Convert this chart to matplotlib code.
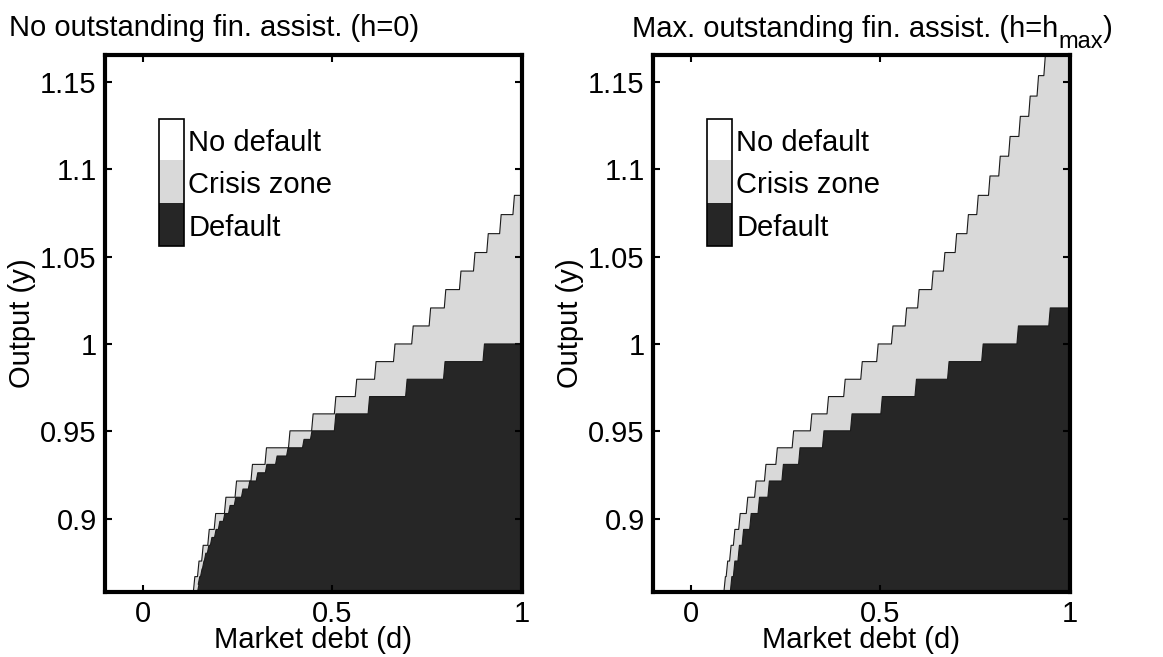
import numpy as np
import matplotlib
matplotlib.use('Agg')
import matplotlib.pyplot as plt
from matplotlib.patches import Rectangle

plt.rcParams['font.family'] = ['Liberation Sans', 'DejaVu Sans']

# output grid levels (y) where the regions step
y_grid = [0.8581, 0.8669, 0.8758, 0.8848, 0.8939, 0.9030, 0.9123, 0.9216,
          0.9311, 0.9406, 0.9503, 0.9600, 0.9699, 0.9798, 0.9899, 1.0000,
          1.0103, 1.0206, 1.0311, 1.0417, 1.0523, 1.0631, 1.0740, 1.0850,
          1.0961, 1.1074, 1.1187, 1.1302, 1.1418, 1.1535, 1.1653]

# h=0 : debt level where crisis zone starts (no default -> crisis), per output band
left_crisis_y = y_grid[:24]
left_crisis_d = [0.137, 0.148, 0.159, 0.175, 0.192, 0.219, 0.247, 0.289,
                 0.326, 0.388, 0.449, 0.509, 0.564, 0.615, 0.665, 0.713,
                 0.759, 0.799, 0.839, 0.876, 0.911, 0.945, 0.980]
# h=0 : debt level where default starts
left_default_y = [0.8581, 0.8625, 0.8669, 0.8713, 0.8758, 0.8803, 0.8848,
                  0.8893, 0.8939, 0.8985, 0.9030, 0.9076, 0.9123, 0.9170,
                  0.9216, 0.9263, 0.9311, 0.9359, 0.9406, 0.9454, 0.9503,
                  0.9600, 0.9699, 0.9798, 0.9899, 1.0000]
left_default_d = [0.148, 0.150, 0.156, 0.161, 0.166, 0.174, 0.182, 0.193,
                  0.203, 0.216, 0.230, 0.245, 0.264, 0.282, 0.303, 0.327,
                  0.354, 0.383, 0.425, 0.446, 0.509, 0.598, 0.697, 0.797,
                  0.901]

# h=hmax
right_crisis_y = y_grid
right_crisis_d = [0.091, 0.097, 0.106, 0.116, 0.130, 0.150, 0.172, 0.198,
                  0.228, 0.271, 0.319, 0.363, 0.407, 0.452, 0.494, 0.533,
                  0.569, 0.602, 0.639, 0.670, 0.701, 0.732, 0.758, 0.789,
                  0.816, 0.842, 0.869, 0.895, 0.917, 0.935]
right_default_y = y_grid[:18]
right_default_d = [0.108, 0.116, 0.128, 0.139, 0.159, 0.181, 0.207, 0.244,
                   0.288, 0.351, 0.425, 0.505, 0.595, 0.681, 0.771, 0.864,
                   0.948]

left_title = 'No outstanding fin. assist. (h=0)'
right_title = ['Max. outstanding fin. assist. (h=h', 'max', ')']
legend_labels = ['No default', 'Crisis zone', 'Default']
c_none, c_crisis, c_default = 'white', '#d9d9d9', '#262626'
FS = 21
W, H = 1163, 657


def region(ax, y_edges, d_vals, color, lean=0.004):
    # stepped region from the boundary to d=1; risers lean slightly like matlab contours
    y = np.asarray(y_edges)
    d = np.asarray(d_vals)
    xs = np.column_stack([d - lean, d]).ravel()
    ys = np.column_stack([y[:-1], y[1:]]).ravel()
    xs = np.concatenate([xs, [1.0, 1.0]])
    ys = np.concatenate([ys, [y[-1], y[0]]])
    ax.fill(xs, ys, color=color, lw=0)
    ax.plot(xs[:-1], ys[:-1], color='#1a1a1a', lw=0.8)


fig = plt.figure(figsize=(W / 100, H / 100), dpi=100)
ax1 = fig.add_axes([105 / W, 65 / H, 417 / W, 537 / H])
ax2 = fig.add_axes([653 / W, 65 / H, 417 / W, 537 / H])

panels = [(ax1, left_crisis_y, left_crisis_d, left_default_y, left_default_d),
          (ax2, right_crisis_y, right_crisis_d, right_default_y, right_default_d)]

for ax, cy, cd, dy, dd in panels:
    region(ax, cy, cd, c_crisis)
    region(ax, dy, dd, c_default)
    ax.set_xlim(-0.1, 1)
    ax.set_ylim(y_grid[0], y_grid[-1])
    ax.set_xticks([0, 0.5, 1])
    ax.set_xticklabels(['0', '0.5', '1'])
    ax.set_yticks([0.9, 0.95, 1.0, 1.05, 1.1, 1.15])
    ax.set_yticklabels(['0.9', '0.95', '1', '1.05', '1.1', '1.15'])
    ax.tick_params(direction='in', length=5, width=1.5, top=True, right=True,
                   labelsize=FS, pad=6)
    for s in ax.spines.values():
        s.set_linewidth(3)
    # colorbar-like legend
    x0, w = 0.130, 0.060
    edges = [0.881, 0.804, 0.724, 0.645]
    for i, c in enumerate([c_none, c_crisis, c_default]):
        ax.add_patch(Rectangle((x0, edges[i + 1]), w, edges[i] - edges[i + 1],
                               transform=ax.transAxes, facecolor=c,
                               edgecolor='none', zorder=5))
    ax.add_patch(Rectangle((x0, edges[3]), w, edges[0] - edges[3],
                           transform=ax.transAxes, facecolor='none',
                           edgecolor='k', lw=1.2, zorder=6))
    for i, lab in enumerate(legend_labels):
        ax.text(0.200, (edges[i] + edges[i + 1]) / 2 - 0.006, lab,
                transform=ax.transAxes, fontsize=FS, va='center', ha='left',
                zorder=6)

fig.text(214 / W, 1 - 28 / H, left_title, fontsize=FS, ha='center', va='center')

# right title with a large, low subscript (matlab tex style), centred as a whole
r = fig.canvas.get_renderer()
base = 1 - 37 / H
t1 = fig.text(0, base, right_title[0], fontsize=FS, va='baseline')
t2 = fig.text(0, base - 11 / H, right_title[1], fontsize=17, va='baseline')
t3 = fig.text(0, base, right_title[2], fontsize=FS, va='baseline')
widths = [t.get_window_extent(r).width for t in (t1, t2, t3)]
x = 872 - sum(widths) / 2
for t, wd in zip((t1, t2, t3), widths):
    t.set_x(x / W)
    x += wd

for xc in (313, 861):
    fig.text(xc / W, 1 - 640 / H, 'Market debt (d)', fontsize=FS,
             ha='center', va='center')
for xc in (22, 570):
    fig.text(xc / W, 1 - 323 / H, 'Output (y)', fontsize=FS,
             ha='center', va='center', rotation=90)

fig.savefig('out.png', dpi=100)
